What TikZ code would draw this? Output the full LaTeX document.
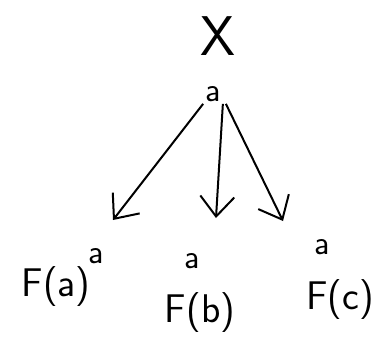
\documentclass[tikz,border=0pt]{standalone}
\usepackage{fontspec}
\setsansfont{Latin Modern Sans}
\usetikzlibrary{arrows.meta}
\tikzset{
  obj/.style={inner sep=0pt,font=\sffamily\fontsize{40}{44}\selectfont},
  elt/.style={inner sep=2pt,font=\sffamily\fontsize{34}{36}\selectfont},
  arr/.style={-{Straight Barb[length=20pt,width=34pt]},line width=2pt}
}
\begin{document}
\begin{tikzpicture}[x=1pt,y=-1pt]
\useasboundingbox (0,0) rectangle (378,346);
% top object and its element
\node[obj,font=\sffamily\fontsize{56}{60}\selectfont] (x) at (218,36) {X};
\node[elt] (xa) at (213,94) {a};
% images
\node[obj] (fa) at (56,287) {F(a)};
\node[elt] (faa) at (96,256) {a};
\node[elt] (fba) at (192,261) {a};
\node[obj] (fb) at (200,313) {F(b)};
\node[elt] (fca) at (322,247) {a};
\node[obj] (fc) at (340,300) {F(c)};
% arrow ends
\coordinate (ta) at (113,220);
\coordinate (tb) at (216,218);
\coordinate (tc) at (283,221);
\draw[arr] (xa.south west) -- (ta);
\draw[arr] (xa.south east) -- (tb);
\draw[arr] ([xshift=3pt]xa.south east) -- (tc);
\end{tikzpicture}
\end{document}
